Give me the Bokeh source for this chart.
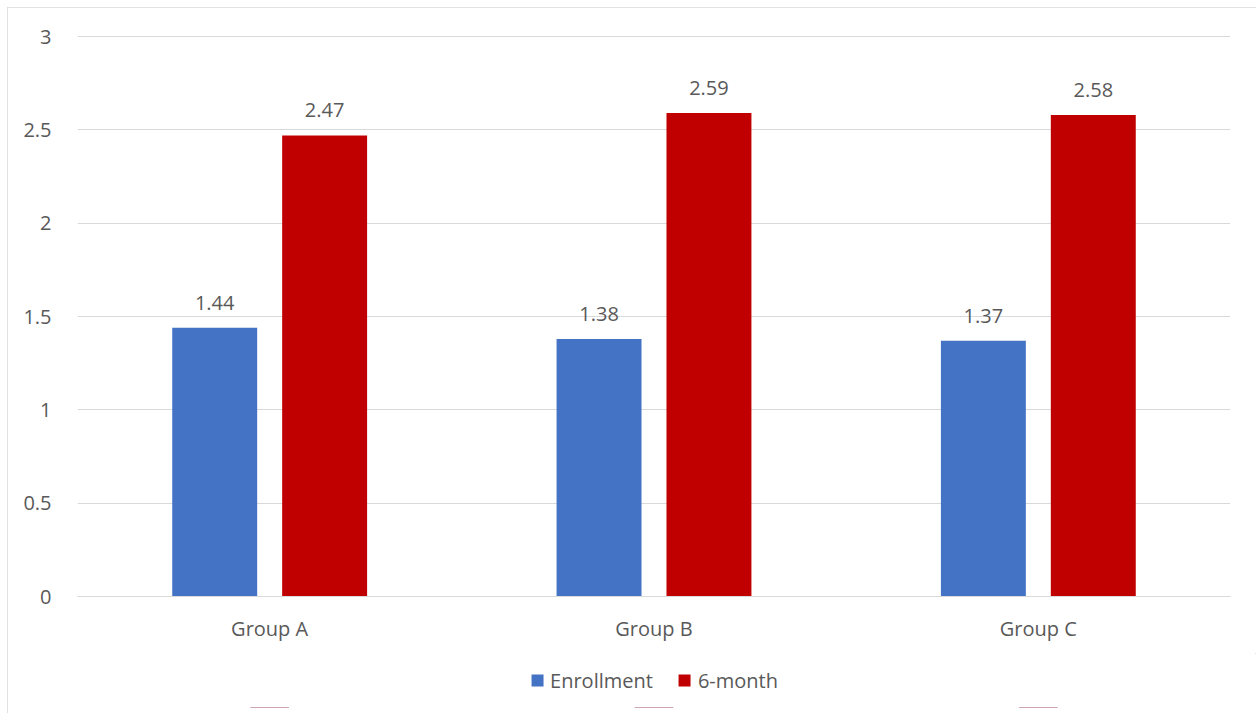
from bokeh.plotting import figure
from bokeh.layouts import column
from bokeh.models import ColumnDataSource, FactorRange, Range1d, LabelSet, Legend, LegendItem, FixedTicker, NumeralTickFormatter
from bokeh.core.properties import value
from bokeh.transform import dodge
from bokeh.embed import file_html
from bokeh.resources import INLINE

groups = ["Group A", "Group B", "Group C"]
enrollment = [1.44, 1.38, 1.37]
six_month = [2.47, 2.59, 2.58]
y_ticks = [0, 0.5, 1, 1.5, 2, 2.5, 3]
series_names = ["Enrollment", "6-month"]
series_colors = ["#4472c4", "#c00000"]

FONT = "Open Sans"
TXT = "#595959"
FS = "20px"

src = ColumnDataSource(dict(
    g=groups, e=enrollment, s=six_month,
    el=[f"{v:.2f}" for v in enrollment],
    sl=[f"{v:.2f}" for v in six_month],
))

p = figure(x_range=FactorRange(*groups), y_range=Range1d(0, 3.0054),
           width=1249, height=646, output_backend="svg", toolbar_location=None,
           min_border_left=70, min_border_right=26, min_border_top=28, min_border_bottom=57)
p.outline_line_color = None

p.vbar(x=dodge("g", -0.143, range=p.x_range), top="e", width=0.221, source=src,
       fill_color=series_colors[0], line_color=None)
p.vbar(x=dodge("g", 0.143, range=p.x_range), top="s", width=0.221, source=src,
       fill_color=series_colors[1], line_color=None)

for col, lab, off in [("e", "el", -0.143), ("s", "sl", 0.143)]:
    ls = LabelSet(x=dodge("g", off, range=p.x_range), y=col, text=lab, source=src,
                  y_offset=18, text_align="center", text_baseline="bottom",
                  text_font=value(FONT), text_font_size=value(FS), text_color=TXT)
    p.add_layout(ls)

p.yaxis.ticker = FixedTicker(ticks=y_ticks)
p.yaxis.formatter = NumeralTickFormatter(format="0.[0]")
p.yaxis.axis_line_color = None
p.yaxis.major_tick_line_color = None
p.yaxis.minor_tick_line_color = None
p.yaxis.major_label_text_font = FONT
p.yaxis.major_label_text_font_size = FS
p.yaxis.major_label_text_color = TXT
p.yaxis.major_label_standoff = 20

p.xaxis.axis_line_color = "#d9d9d9"
p.xaxis.axis_line_width = 1
p.xaxis.major_tick_line_color = None
p.xaxis.minor_tick_line_color = None
p.xaxis.major_label_text_font = FONT
p.xaxis.major_label_text_font_size = FS
p.xaxis.major_label_text_color = TXT
p.xaxis.major_label_standoff = 12

p.xgrid.grid_line_color = None
p.ygrid.grid_line_color = "#d9d9d9"
p.ygrid.grid_line_width = 1

# legend strip below the chart (zero-height bars that only serve the legend)
p2 = figure(width=1249, height=60, output_backend="svg", toolbar_location=None,
            x_range=FactorRange(*groups), y_range=Range1d(10, 11),
            min_border_left=0, min_border_right=0, min_border_top=0, min_border_bottom=6)
p2.axis.visible = False
p2.grid.visible = False
p2.outline_line_color = None
items = []
for name, c, colname in zip(series_names, series_colors, ["e", "s"]):
    r = p2.vbar(x="g", top=colname, bottom=colname, width=0.1, source=src,
                fill_color=c, line_color=None)
    items.append(LegendItem(label=name, renderers=[r]))
legend = Legend(items=items, orientation="horizontal", location="center",
                label_text_font=FONT, label_text_font_size=FS, label_text_color=TXT,
                glyph_width=15, glyph_height=15, spacing=24, border_line_color=None,
                background_fill_alpha=0, margin=0, padding=0, label_standoff=6)
p2.add_layout(legend)

layout = column(p, p2, spacing=0)
layout.margin = (7, 0, 0, 7)
layout.styles = {"outline": "1px solid #d9d9d9", "outline-offset": "-1px"}

open("out.html", "w").write(file_html(layout, INLINE))
